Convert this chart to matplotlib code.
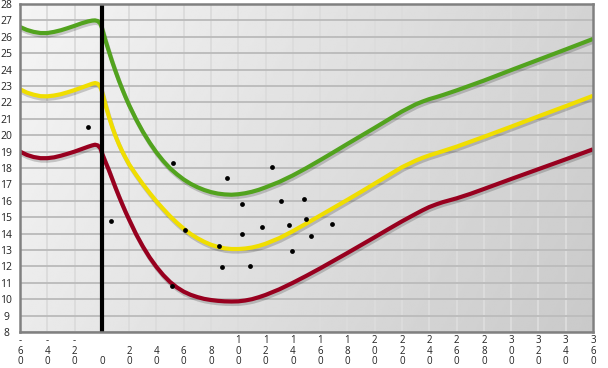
import matplotlib
matplotlib.use("Agg")
import matplotlib.pyplot as plt
import matplotlib.patheffects as pe
import numpy as np

# curve samples
curve_x = [-60, -55, -50, -45, -40, -35, -30, -25, -20, -15, -10,
           -7, -5, -3, -1, 0,
           2.5, 5, 7.5, 10, 12.5, 15, 17.5, 20,
           25, 30, 35, 40, 45, 50, 55, 60, 65, 70, 75, 80, 85, 90, 95, 100,
           105, 110, 115, 120,
           130, 140, 150, 160, 170, 180, 190, 200, 210, 220, 230,
           235, 240, 245, 250,
           260, 270, 280,
           300, 320, 340, 360]
green_y = [26.6, 26.42, 26.3, 26.23, 26.23, 26.3, 26.4, 26.53, 26.67, 26.82, 26.94,
           26.99, 27.0, 26.96, 26.8, 26.55,
           25.82, 25.15, 24.5, 23.9, 23.33, 22.8, 22.3, 21.83,
           20.98, 20.22, 19.55, 18.95, 18.43, 17.98, 17.62, 17.3, 17.04, 16.83, 16.66,
           16.53, 16.44, 16.39, 16.37, 16.4,
           16.46, 16.55, 16.67, 16.82,
           17.15, 17.55, 18.0, 18.48, 18.97, 19.47, 19.96, 20.45, 20.95, 21.45, 21.88,
           22.05, 22.2, 22.32, 22.45,
           22.73, 23.03, 23.33,
           23.97, 24.6, 25.23, 25.87]
yellow_y = [22.8, 22.6, 22.47, 22.38, 22.37, 22.42, 22.5, 22.62, 22.75, 22.9, 23.05,
            23.14, 23.18, 23.14, 22.95, 22.68,
            21.9, 21.17, 20.52, 19.95, 19.45, 19.0, 18.6, 18.22,
            17.6, 17.02, 16.48, 15.97, 15.5, 15.06, 14.66, 14.3, 13.98, 13.72, 13.5,
            13.32, 13.19, 13.1, 13.06, 13.06,
            13.09, 13.15, 13.25, 13.38,
            13.72, 14.15, 14.62, 15.1, 15.58, 16.06, 16.55, 17.05, 17.55, 18.05, 18.45,
            18.62, 18.77, 18.9, 19.03,
            19.3, 19.6, 19.9,
            20.52, 21.15, 21.77, 22.4]
red_y = [19.0, 18.8, 18.67, 18.6, 18.6, 18.65, 18.75, 18.87, 19.0, 19.15, 19.3,
         19.38, 19.42, 19.38, 19.2, 18.92,
         18.4, 17.9, 17.35, 16.8, 16.28, 15.78, 15.3, 14.85,
         13.98, 13.22, 12.55, 11.97, 11.47, 11.05, 10.72, 10.46, 10.27, 10.13, 10.02,
         9.95, 9.9, 9.87, 9.86, 9.87,
         9.92, 10.0, 10.12, 10.26,
         10.6, 11.0, 11.43, 11.88, 12.35, 12.82, 13.3, 13.78, 14.27, 14.75, 15.2,
         15.42, 15.62, 15.78, 15.92,
         16.15, 16.42, 16.72,
         17.33, 17.93, 18.53, 19.14]

# scatter points
pts_x = [52.4, 91.5, 125, 103, 131.1, 148.2, 60.7, 102.8, 117.7, 137.2, 149.7, 168.7,
         153.6, 85.9, 139.6, 88.1, 108.6, 51.2, -9.9, 6.5]
pts_y = [18.3, 17.4, 18.08, 15.79, 16.0, 16.1, 14.24, 13.96, 14.4, 14.5, 14.9, 14.57,
         13.85, 13.24, 12.92, 11.94, 12.04, 10.78, 20.5, 14.77]

x_ticks = list(range(-60, 361, 20))
y_ticks = list(range(8, 29))

plt.rcParams['font.family'] = ['Open Sans', 'DejaVu Sans']

fig = plt.figure(figsize=(6.08, 3.68), dpi=100)
ax = fig.add_axes([20/608, 36/368, 573/608, 328/368])

# background gradient (light top-left, darker bottom-right)
u = np.linspace(0, 1, 300)
v = np.linspace(0, 1, 100)
U, V = np.meshgrid(u, v)
bg = 0.96 - 0.13 * U - 0.04 * V
ax.imshow(bg, cmap='gray', vmin=0, vmax=1, extent=[-60, 360, 8, 28], origin='upper',
          aspect='auto', zorder=0, interpolation='bilinear')
ax.set_xlim(-60, 360)
ax.set_ylim(8, 28)

for xv in x_ticks:
    ax.axvline(xv, color='#dcdcdc', lw=1.4, zorder=1)
for yv in y_ticks:
    ax.axhline(yv, color='#bdbdbd', lw=1.4, zorder=1)

shadow = [pe.SimpleLineShadow(offset=(0.8, -1.8), shadow_color='k', alpha=0.18),
          pe.Normal()]
ax.plot(curve_x, green_y, color='#52a31e', lw=3.0, zorder=4, path_effects=shadow,
        solid_capstyle='butt', solid_joinstyle='round')
ax.plot(curve_x, yellow_y, color='#f0de00', lw=3.0, zorder=4, path_effects=shadow,
        solid_capstyle='butt', solid_joinstyle='round')
ax.plot(curve_x, red_y, color='#98001f', lw=3.0, zorder=4, path_effects=shadow,
        solid_capstyle='butt', solid_joinstyle='round')

ax.axvline(0, color='black', lw=3.0, zorder=5)
ax.scatter(pts_x, pts_y, s=12, color='black', zorder=6, linewidths=0)

for s in ax.spines.values():
    s.set_color('#808080')
    s.set_linewidth(1.8)
    s.set_zorder(7)

ax.set_xticks(x_ticks)
ax.set_xticklabels(['\n'.join(str(t)) for t in x_ticks], fontsize=7, va='bottom',
                   linespacing=0.95, color='#222222')
ax.set_yticks(y_ticks)
ax.set_yticklabels([str(t) for t in y_ticks], fontsize=7.5, ha='center', color='#222222')
ax.tick_params(axis='x', length=0, pad=25.5)
ax.tick_params(axis='y', length=0, pad=10)

fig.savefig('out.png', dpi=100)
